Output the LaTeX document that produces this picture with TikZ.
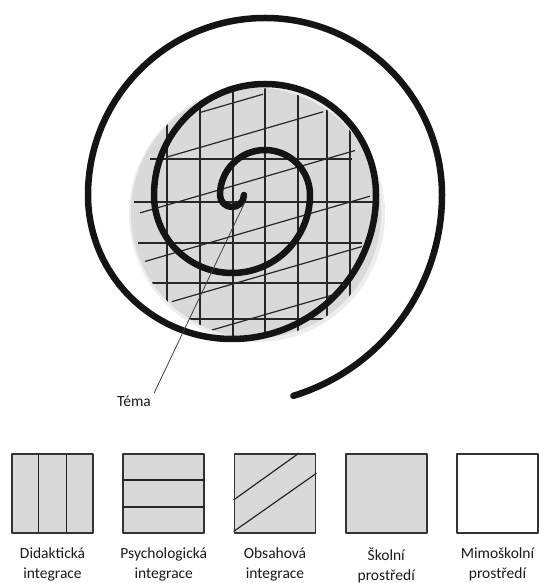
\documentclass[tikz,border=0pt]{standalone}
\usepackage{fontspec}
\setmainfont{Carlito}
\usetikzlibrary{positioning,calc}
\newcommand{\lblfont}{\fontsize{15.5}{19.5}\selectfont}

\begin{document}
\begin{tikzpicture}[x=1pt,y=1pt,line join=round,
  spiral/.style={line width=6.5pt,line cap=round,black!92},
  hatch/.style={line width=1.2pt,black!85},
  box/.style={rectangle,draw=black!80,line width=1.8pt,minimum width=81pt,minimum height=79pt,inner sep=0pt,fill=black!15},
  lbl/.style={align=center,inner sep=0pt,font=\lblfont,text=black!90,execute at begin node=\strut}]
\useasboundingbox (0,0) rectangle (538,583);
% gray disk with the three kinds of lines
\fill[black!7] (257,369) circle[radius=128];
\fill[black!15] (256,370) circle[radius=125];
\begin{scope}
  \clip (256,370) circle[radius=125];
  \foreach \x in {167,200,233,265,298,327,350}
    \draw[hatch] (\x,230) -- (\x,510);
  \foreach \y/\a/\b in {424/150/352,381/134/377,340/138/362,300/152/350,264/188/326}
    \draw[hatch] (\a,\y) -- (\b,\y);
  \foreach \y/\a/\b in {485/200/263,450/167/323,402/140/355,352/145/370,304/172/362,264/212/332}
    \draw[hatch] (\a,{\y+0.29*(\a-250)}) -- (\b,{\y+0.29*(\b-250)});
\end{scope}
% spiral
\draw[spiral] (244,388) arc[start angle=0,end angle=-180,radius=12]
  arc[start angle=180,end angle=0,radius=45]
  arc[start angle=0,end angle=-180,radius=78]
  arc[start angle=180,end angle=0,radius=111]
  arc[start angle=0,end angle=-180,radius=144]
  arc[start angle=180,end angle=0,radius=177]
  arc[start angle=0,end angle=-73,radius=210];
\coordinate (tip) at (245,381);
\node[font=\lblfont,inner sep=3pt,anchor=base,text=black!90] (tema) at (134,176) {Téma};
\draw[line width=0.8pt,black!75] (tip) -- (tema.north east);
% legend
\foreach \i/\f/\t in {1/black!15/Didaktická\\integrace,2/black!15/Psychologická\\integrace,
    3/black!15/Obsahová\\integrace,4/black!15/Školní\\prostředí,5/white/Mimoškolní\\prostředí}{
  \node[box,fill=\f] (b\i) at ({52.5+111.25*(\i-1)},89.5) {};
  \node[lbl,below=14pt of b\i] (l\i) {\t};
}
\foreach \k in {1,2}{
  \draw[hatch] ($(b1.south west)!\k/3!(b1.south east)$) -- ($(b1.north west)!\k/3!(b1.north east)$);
  \draw[hatch] ($(b2.south west)!\k/3!(b2.north west)$) -- ($(b2.south east)!\k/3!(b2.north east)$);
}
\draw[hatch] ($(b3.south west)!0.42!(b3.north west)$) -- ($(b3.north west)!0.79!(b3.north east)$);
\draw[hatch] ($(b3.south west)!0.03!(b3.north west)$) -- ($(b3.south east)!0.75!(b3.north east)$);
\end{tikzpicture}
\end{document}
